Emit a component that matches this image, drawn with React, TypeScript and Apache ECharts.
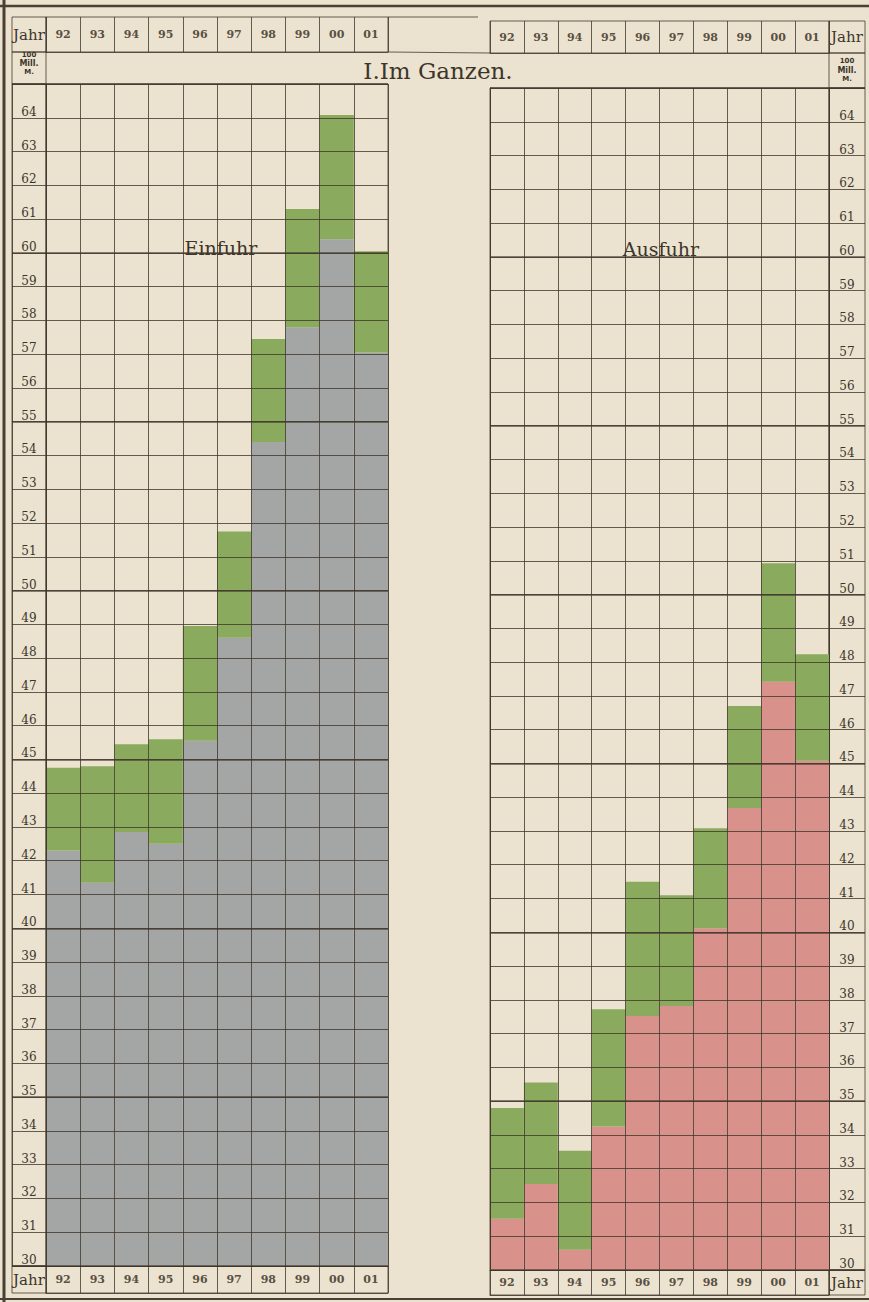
import React, { useEffect, useRef } from 'react';
import * as echarts from 'echarts';

// Jahre 1892–1901
const years = ['92', '93', '94', '95', '96', '97', '98', '99', '00', '01'];
// Einfuhr, in 100 Mill. M. (grauer Teil und grüner Aufsatz)
const einfuhrSpezial = [42.3, 41.35, 42.85, 42.5, 45.55, 48.6, 54.4, 57.8, 60.4, 57.05];
const einfuhrGesamt = [44.75, 44.8, 45.45, 45.6, 48.95, 51.75, 57.45, 61.3, 64.08, 60.05];
// Ausfuhr, in 100 Mill. M. (roter Teil und grüner Aufsatz)
const ausfuhrSpezial = [31.52, 32.55, 30.6, 34.25, 37.52, 37.82, 40.12, 43.68, 47.42, 45.08];
const ausfuhrGesamt = [34.8, 35.55, 33.53, 37.72, 41.5, 41.1, 43.08, 46.7, 50.93, 48.23];
const yMin = 30;
const yMax = 65;
const unitLabel = ['100', 'Mill.', 'M.'];
const rowLabel = 'Jahr';
const title = 'I.Im Ganzen.';
const leftName = 'Einfuhr';
const rightName = 'Ausfuhr';

const PAPER = '#ebe3cf';
const GRAY = '#a4a6a5';
const GREEN = '#8aab5e';
const RED = '#d9918b';
const LINE = 'rgba(62,52,42,0.78)';
const FRAME = '#4a4035';
const INK = '#3d352b';
const INK2 = '#5a4f43';
const SERIF = '"DejaVu Serif", "Liberation Serif", serif';
const SANS = '"DejaVu Sans", "Liberation Sans", sans-serif';

export default function App() {
  const ref = useRef<HTMLDivElement>(null);
  useEffect(() => {
    if (!ref.current) return;
    const chart = echarts.init(ref.current, null, { renderer: 'svg' });
    const lineStyle = { color: LINE, width: 1 };
    const majorStyle = { color: LINE, width: 1.6 };
    const diff = (top: number[], base: number[]) =>
      top.map((v, i) => Math.round((v - base[i]) * 100) / 100);

    const grids = [
      { left: 46, top: 84, width: 342, height: 1182 }, // 0 left main
      { left: 12, top: 84, width: 34, height: 1182 }, // 1 left labels
      { left: 46, top: 17, width: 342, height: 35 }, // 2 left header
      { left: 46, top: 1266, width: 342, height: 27 }, // 3 left footer
      { left: 490, top: 88, width: 339, height: 1182 }, // 4 right main
      { left: 829, top: 88, width: 36, height: 1182 }, // 5 right labels
      { left: 490, top: 21, width: 339, height: 32 }, // 6 right header
      { left: 490, top: 1270, width: 339, height: 25 }, // 7 right footer
    ].map((g) => ({ ...g, show: true, borderColor: LINE, borderWidth: 1, backgroundColor: 'transparent' }));

    const mainX = (gridIndex: number) => ({
      type: 'category', gridIndex, data: years, z: 3, position: 'bottom',
      axisLine: { show: true, lineStyle },
      axisTick: { show: false },
      axisLabel: { show: false },
      splitLine: { show: true, interval: 0, lineStyle },
    });
    const hiddenX = (gridIndex: number) => ({ type: 'value', gridIndex, min: 0, max: 1, show: false });
    const hiddenY = (gridIndex: number) => ({ type: 'value', gridIndex, min: 0, max: 1, show: false });
    const yearX = (gridIndex: number, h: number) => ({
      type: 'category', gridIndex, data: years, z: 3, position: 'bottom',
      axisLine: { show: true, lineStyle },
      axisTick: { show: false },
      axisLabel: {
        inside: true, margin: h / 2, verticalAlign: 'middle', interval: 0,
        color: INK2, fontFamily: SERIF, fontWeight: 'bold', fontSize: 11,
      },
      splitLine: { show: true, interval: 0, lineStyle },
    });
    const valueY = (gridIndex: number, interval: number, ls: any, extra: any = {}) => ({
      type: 'value', gridIndex, min: yMin, max: yMax, interval, z: 3,
      axisLine: { show: false },
      axisTick: { show: false },
      axisLabel: { show: false },
      splitLine: { show: true, lineStyle: ls },
      ...extra,
    });
    const labelY = (gridIndex: number, position: string, margin: number) => ({
      type: 'value', gridIndex, min: yMin, max: yMax, interval: 1, z: 3, position,
      axisLine: { show: true, lineStyle },
      axisTick: { show: false },
      axisLabel: {
        inside: true, margin, align: 'center', verticalAlign: 'bottom',
        color: INK, fontFamily: SERIF, fontSize: 12,
        formatter: (v: number) => (v >= yMax ? '' : String(v)),
      },
      splitLine: { show: true, lineStyle },
    });

    const xAxis = [mainX(0), hiddenX(1), yearX(2, 35), yearX(3, 27), mainX(4), hiddenX(5), yearX(6, 32), yearX(7, 25)];
    const yAxis = [
      valueY(0, 1, lineStyle, { position: 'left', axisLine: { show: true, lineStyle } }), // 0
      valueY(0, 5, majorStyle, { position: 'right' }), // 1
      labelY(1, 'left', 17), // 2
      valueY(1, 5, majorStyle, { position: 'right' }), // 3
      hiddenY(2), // 4
      hiddenY(3), // 5
      valueY(4, 1, lineStyle, { position: 'left', axisLine: { show: true, lineStyle } }), // 6
      valueY(4, 5, majorStyle, { position: 'right' }), // 7
      labelY(5, 'right', 18), // 8
      valueY(5, 5, majorStyle, { position: 'left' }), // 9
      hiddenY(6), // 10
      hiddenY(7), // 11
    ];

    const series = [
      { type: 'bar', name: 'Einfuhr', xAxisIndex: 0, yAxisIndex: 0, stack: 'ein', data: einfuhrSpezial,
        itemStyle: { color: GRAY }, barCategoryGap: '0%', silent: true },
      { type: 'bar', name: 'Einfuhr +', xAxisIndex: 0, yAxisIndex: 0, stack: 'ein', data: diff(einfuhrGesamt, einfuhrSpezial),
        itemStyle: { color: GREEN }, barCategoryGap: '0%', silent: true },
      { type: 'bar', name: 'Ausfuhr', xAxisIndex: 4, yAxisIndex: 6, stack: 'aus', data: ausfuhrSpezial,
        itemStyle: { color: RED }, barCategoryGap: '0%', silent: true },
      { type: 'bar', name: 'Ausfuhr +', xAxisIndex: 4, yAxisIndex: 6, stack: 'aus', data: diff(ausfuhrGesamt, ausfuhrSpezial),
        itemStyle: { color: GREEN }, barCategoryGap: '0%', silent: true },
    ];

    const cell = (x: number, y: number, w: number, h: number) => ({
      type: 'rect', shape: { x, y, width: w, height: h },
      style: { fill: 'rgba(0,0,0,0)', stroke: LINE, lineWidth: 1 }, z: 5, silent: true,
    });
    const txt = (x: number, y: number, text: string, font: string, fill = INK) => ({
      type: 'text', x, y, z: 10, silent: true,
      style: { text, font, fill, align: 'center', verticalAlign: 'middle' },
    });
    const hline = (x1: number, y1: number, x2: number, y2: number, w: number, c = LINE) => ({
      type: 'line', shape: { x1, y1, x2, y2 }, style: { stroke: c, lineWidth: w }, z: 5, silent: true,
    });

    const graphic = [
      hline(4, 0, 4, 1302, 3, FRAME),
      hline(0, 6, 869, 6, 2.5, FRAME),
      hline(0, 1299, 869, 1299, 2, FRAME),
      hline(388, 17, 478, 17, 1),
      hline(388, 52, 490, 53, 1),
      cell(12, 17, 34, 35),
      cell(12, 52, 34, 32),
      cell(12, 1266, 34, 27),
      cell(829, 21, 36, 32),
      cell(829, 53, 36, 35),
      cell(829, 1270, 36, 25),
      txt(29, 35, rowLabel, `15px ${SERIF}`),
      txt(29, 1280, rowLabel, `15px ${SERIF}`),
      txt(847, 37, rowLabel, `15px ${SERIF}`),
      txt(847, 1283, rowLabel, `15px ${SERIF}`),
      txt(29, 55, unitLabel[0], `bold 7px ${SANS}`),
      txt(29, 63, unitLabel[1], `bold 8px ${SANS}`),
      txt(29, 72, unitLabel[2], `bold 7px ${SANS}`),
      txt(847, 61, unitLabel[0], `bold 7px ${SANS}`),
      txt(847, 70, unitLabel[1], `bold 8px ${SANS}`),
      txt(847, 79, unitLabel[2], `bold 7px ${SANS}`),
      txt(438, 71, title, `23px ${SERIF}`),
      txt(221, 248, leftName, `19px ${SERIF}`),
      txt(661, 249, rightName, `19px ${SERIF}`),
    ];

    chart.setOption({
      animation: false,
      backgroundColor: PAPER,
      grid: grids,
      xAxis,
      yAxis,
      series,
      graphic,
    } as any);
    return () => chart.dispose();
  }, []);
  return (
    <div
      ref={ref}
      style={{ position: 'absolute', left: 0, top: 0, width: 869, height: 1302, background: PAPER }}
    />
  );
}
